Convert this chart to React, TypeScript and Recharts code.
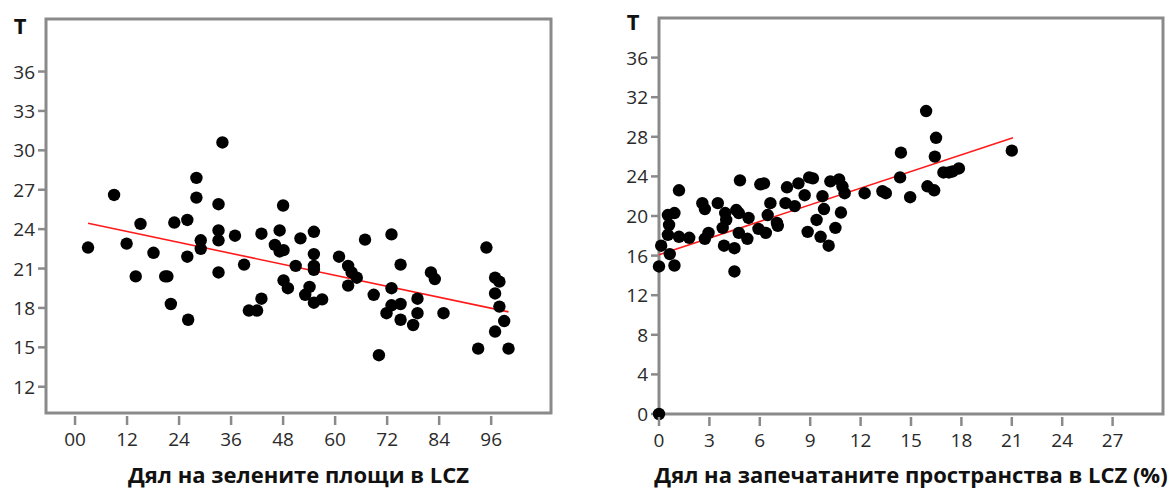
import React from 'react';
import { ScatterChart, Scatter, XAxis, YAxis, ReferenceArea, ReferenceLine } from 'recharts';

// ---- Left chart: share of green areas in LCZ vs T ----
const greenShare = [3, 9, 11.9, 14, 15.1, 18.1, 20.8, 21.3, 22.1, 22.9, 25.9, 25.9, 26.1, 28, 28, 29, 29, 33.1, 33.1, 33.1, 33.1, 34, 36.9, 39, 40.1, 42, 43, 43, 46.1, 47.2, 47.2, 48.1, 48, 48.1, 49.1, 50.9, 52, 53.1, 54.1, 55.1, 55.1, 55.1, 55.1, 55.1, 57, 60.9, 63, 63, 65, 63.8, 66.9, 68.9, 70.1, 71.85, 73, 73, 73, 75.1, 75.1, 75.1, 78, 79, 79, 82.1, 83, 85, 93, 94.9, 96.9, 96.9, 96.9, 97.9, 97.9, 99, 100];
const greenTemp = [22.6, 26.6, 22.9, 20.4, 24.4, 22.2, 20.4, 20.4, 18.3, 24.5, 24.7, 21.9, 17.1, 27.9, 26.4, 23.15, 22.5, 25.9, 23.9, 23.15, 20.7, 30.6, 23.5, 21.3, 17.8, 17.8, 18.7, 23.65, 22.8, 23.9, 22.3, 22.4, 25.8, 20.1, 19.5, 21.2, 23.3, 19, 19.6, 23.8, 22.1, 21.2, 20.9, 18.4, 18.65, 21.9, 21.2, 19.7, 20.3, 20.7, 23.2, 19, 14.4, 17.6, 23.6, 19.5, 18.2, 21.3, 18.3, 17.1, 16.7, 18.7, 17.6, 20.7, 20.2, 17.6, 14.9, 22.6, 20.3, 19.1, 16.2, 20, 18.1, 17, 14.9];
const greenFit = [{ x: 3, y: 24.45 }, { x: 100, y: 17.7 }];
const greenXTicks = [0, 12, 24, 36, 48, 60, 72, 84, 96];
const greenYTicks = [12, 15, 18, 21, 24, 27, 30, 33, 36];
const greenXDomain = [-6.7, 109.8];
const greenYDomain = [10, 40];
const greenTitle = 'Дял на зелените площи в LCZ';

// ---- Right chart: share of sealed surfaces in LCZ (%) vs T ----
const sealedShare = [0, 0, 0.13, 0.53, 0.6, 0.53, 0.64, 0.92, 0.92, 1.19, 1.19, 1.8, 2.58, 2.73, 2.73, 2.95, 3.5, 3.79, 3.94, 4.0, 3.87, 4.49, 4.49, 4.6, 4.75, 4.75, 4.82, 5.26, 5.33, 5.92, 6.03, 6.25, 6.36, 6.47, 6.63, 7.02, 7.07, 7.53, 7.62, 8.08, 8.3, 8.67, 8.85, 8.94, 9.16, 9.38, 9.62, 9.73, 9.82, 10.1, 10.2, 10.5, 10.72, 10.83, 10.92, 11.05, 12.24, 13.3, 13.5, 14.35, 14.4, 14.95, 15.9, 15.98, 16.38, 16.42, 16.49, 16.93, 17.26, 17.48, 17.85, 21.0];
const sealedTemp = [0, 14.9, 17.0, 20.1, 19.1, 18.1, 16.15, 20.3, 15.0, 22.6, 17.9, 17.8, 21.3, 20.7, 17.7, 18.3, 21.3, 18.8, 20.3, 19.6, 17.0, 16.75, 14.4, 20.6, 20.3, 18.3, 23.6, 17.7, 19.8, 18.7, 23.2, 23.3, 18.3, 20.1, 21.3, 19.3, 19.0, 21.3, 22.9, 21.0, 23.3, 22.1, 18.4, 23.9, 23.8, 19.6, 17.9, 22.0, 20.7, 17.0, 23.5, 18.8, 23.7, 20.35, 23.0, 22.3, 22.3, 22.5, 22.3, 23.9, 26.4, 21.9, 30.6, 23.0, 22.6, 26.0, 27.9, 24.4, 24.4, 24.5, 24.8, 26.6];
const sealedFit = [{ x: 0, y: 16.08 }, { x: 21.07, y: 27.9 }];
const sealedXTicks = [0, 3, 6, 9, 12, 15, 18, 21, 24, 27];
const sealedYTicks = [0, 4, 8, 12, 16, 20, 24, 28, 32, 36];
const sealedXDomain = [0, 30];
const sealedYDomain = [0, 40];
const sealedTitle = 'Дял на запечатаните пространства в LCZ (%)';

const FONT = '"Open Sans", "DejaVu Sans", sans-serif';
const TICK_COLOR = '#2a2a2a';
const FRAME = '#8a8a8a';

const toPoints = (xs: number[], ys: number[]) => xs.map((x, i) => ({ x, y: ys[i] }));

const XTick = (props: any) => {
  const { x, y, payload, fmt } = props;
  const axisY = y - 19;
  return (
    <g>
      <line x1={x} x2={x} y1={axisY + 3} y2={axisY + 12} stroke={FRAME} strokeWidth={2.5} />
      <text x={x} y={axisY + 33} textAnchor="middle" fontFamily={FONT} fontSize={19} fill={TICK_COLOR}>
        {fmt ? fmt(payload.value) : payload.value}
      </text>
    </g>
  );
};

const YTick = (props: any) => {
  const { x, y, payload } = props;
  return (
    <text x={x} y={y + 7} textAnchor="end" fontFamily={FONT} fontSize={19} fill={TICK_COLOR}>
      {payload.value}
    </text>
  );
};

const Dot = (props: any) => <circle cx={props.cx} cy={props.cy} r={6.2} fill="#000" />;

type PanelProps = {
  left: number;
  width: number;
  margin: { top: number; right: number; left: number; bottom: number };
  xAxisHeight: number;
  data: { x: number; y: number }[];
  fit: { x: number; y: number }[];
  xTicks: number[];
  yTicks: number[];
  xDomain: number[];
  yDomain: number[];
  title: string;
  tX: number;
  tY: number;
  titleOffset: number;
  xFmt?: (v: number) => string;
};

const Panel = (p: PanelProps) => (
  <div style={{ position: 'absolute', left: p.left, top: 0 }}>
    <ScatterChart width={p.width} height={491} margin={p.margin}>
      <XAxis
        type="number"
        dataKey="x"
        domain={p.xDomain}
        ticks={p.xTicks}
        interval={0}
        axisLine={false}
        tickLine={false}
        tickSize={11}
        tickMargin={8}
        height={p.xAxisHeight}
        tick={<XTick fmt={p.xFmt} />}
        label={{
          value: p.title,
          position: 'insideBottom',
          offset: p.titleOffset,
          style: { fontFamily: FONT, fontSize: 22, fontWeight: 700, fill: '#111' },
        }}
      />
      <YAxis
        type="number"
        dataKey="y"
        domain={p.yDomain}
        ticks={p.yTicks}
        interval={0}
        width={30}
        axisLine={false}
        tickSize={8}
        tickMargin={3}
        tickLine={{ stroke: FRAME, strokeWidth: 2.5 }}
        tick={<YTick />}
        label={{
          content: () => (
            <text x={p.tX} y={p.tY} textAnchor="middle" fontFamily={FONT} fontSize={22} fontWeight={700} fill="#111">
              T
            </text>
          ),
        }}
      />
      <ReferenceArea
        x1={p.xDomain[0]}
        x2={p.xDomain[1]}
        y1={p.yDomain[0]}
        y2={p.yDomain[1]}
        fill="none"
        fillOpacity={0}
        stroke={FRAME}
        strokeWidth={3}
        strokeOpacity={1}
      />
      <Scatter data={p.data} fill="#000" shape={<Dot />} isAnimationActive={false} />
      <ReferenceLine segment={p.fit} stroke="#ff1a1a" strokeWidth={1.6} ifOverflow="visible" />
    </ScatterChart>
  </div>
);

export default function App() {
  return (
    <div style={{ position: 'absolute', left: 0, top: 0, width: 1171, height: 491, background: '#fff' }}>
      <Panel
        left={0}
        width={590}
        margin={{ top: 19, right: 39, left: 16, bottom: 0 }}
        xAxisHeight={78}
        data={toPoints(greenShare, greenTemp)}
        fit={greenFit}
        xTicks={greenXTicks}
        yTicks={greenYTicks}
        xDomain={greenXDomain}
        yDomain={greenYDomain}
        title={greenTitle}
        tX={20}
        tY={34}
        titleOffset={8}
        xFmt={(v: number) => (v === 0 ? '00' : String(v))}
      />
      <Panel
        left={590}
        width={581}
        margin={{ top: 18, right: 8, left: 39, bottom: 0 }}
        xAxisHeight={77}
        data={toPoints(sealedShare, sealedTemp)}
        fit={sealedFit}
        xTicks={sealedXTicks}
        yTicks={sealedYTicks}
        xDomain={sealedXDomain}
        yDomain={sealedYDomain}
        title={sealedTitle}
        tX={43}
        tY={30}
        titleOffset={8}
      />
    </div>
  );
}
